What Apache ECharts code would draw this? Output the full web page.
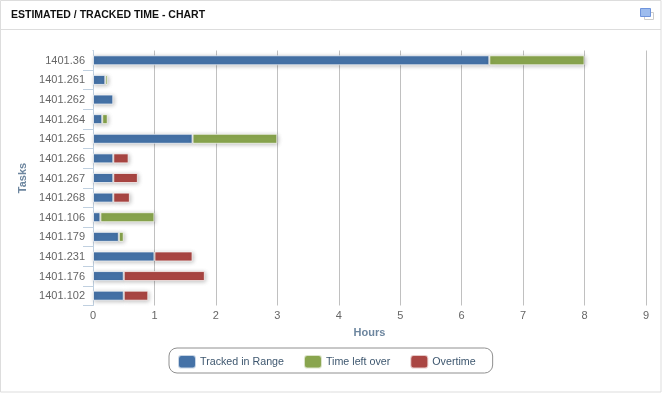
<!DOCTYPE html>
<html><head><meta charset="utf-8">
<style>html,body{margin:0;padding:0;background:#fff}#c{width:662px;height:393px}</style>
<script src="https://cdn.jsdelivr.net/npm/echarts@6/dist/echarts.min.js"></script>
</head><body><div id="c"></div>
<script>
const categories = ['1401.36','1401.261','1401.262','1401.264','1401.265','1401.266','1401.267','1401.268','1401.106','1401.179','1401.231','1401.176','1401.102'];
const tracked = [6.45,0.2,0.33,0.15,1.62,0.33,0.33,0.33,0.12,0.42,1.0,0.5,0.5];
const leftOver = [1.55,0.04,null,0.09,1.38,null,null,null,0.88,0.08,null,null,null];
const overtime = [null,null,null,null,null,0.25,0.4,0.27,null,null,0.62,1.32,0.4];
const FONT = '"Liberation Sans", Arial, sans-serif';
const chart = echarts.init(document.getElementById('c'), null, {renderer:'canvas'});
const mk = (name,data,color)=>({
  name,type:'bar',stack:'t',data,barWidth:10,
  itemStyle:{color,borderColor:'rgba(255,255,255,0.7)',borderWidth:1,shadowColor:'rgba(0,0,0,0.25)',shadowBlur:4,shadowOffsetX:1,shadowOffsetY:1}
});
chart.setOption({
  animation:false,
  textStyle:{fontFamily:FONT},
  title:{text:'ESTIMATED / TRACKED TIME - CHART',left:11,top:10,padding:0,
    textStyle:{fontFamily:FONT,fontSize:10.5,fontWeight:'bold',color:'#111'}},
  graphic:[
    {type:'rect',z:-1,shape:{x:0.5,y:0.5,width:660.5,height:391.5},style:{fill:'#fff',stroke:'#ddd',lineWidth:1}},
    {type:'line',z:-1,shape:{x1:1,y1:29.5,x2:661,y2:29.5},style:{stroke:'#ddd',lineWidth:1}},
    {type:'rect',z:1,shape:{x:644.5,y:12.5,width:9,height:7},style:{fill:'#fff',stroke:'#ccc',lineWidth:1}},
    {type:'rect',z:2,shape:{x:640.5,y:8.5,width:10,height:8},style:{fill:'#9dbcee',stroke:'#6f94dc',lineWidth:1}},
    {type:'rect',z:10,shape:{x:82,y:48,width:10.5,height:4},style:{fill:'#fff'}}
  ],
  grid:{left:93,top:50.5,width:553,height:255,containLabel:false},
  legend:{
    left:169,top:348,padding:[6,17,3.5,8],
    borderColor:'#909090',borderWidth:1,borderRadius:8,
    itemWidth:18,itemHeight:13.5,itemGap:19,
    icon:'roundRect',
    textStyle:{fontFamily:FONT,fontSize:10.7,color:'#3E576F',padding:[0,0,0,-1]},
    data:['Tracked in Range','Time left over','Overtime']
  },
  xAxis:{type:'value',min:0,max:9,interval:1,
    name:'Hours',nameLocation:'middle',nameGap:22,
    nameTextStyle:{fontFamily:FONT,fontSize:11,fontWeight:'bold',color:'#6D869F'},
    axisLine:{show:false},axisTick:{show:false},
    splitLine:{show:true,showMinLine:false,lineStyle:{color:'#C0C0C0',width:1}},
    axisLabel:{fontFamily:FONT,fontSize:11,color:'#666',margin:5}},
  yAxis:{type:'category',inverse:true,data:categories,
    name:'Tasks',nameLocation:'middle',nameGap:51,nameRotate:90,
    nameTextStyle:{fontFamily:FONT,fontSize:11,fontWeight:'bold',color:'#6D869F'},
    axisLine:{show:true,lineStyle:{color:'#C0D0E0',width:1}},
    axisTick:{show:true,length:10,alignWithLabel:false,lineStyle:{color:'#C0D0E0'}},
    axisLabel:{fontFamily:FONT,fontSize:11,color:'#666',margin:8,verticalAlign:'top',padding:[-5,0,0,0]}},
  series:[
    mk('Tracked in Range',tracked,'#4572A7'),
    mk('Time left over',leftOver,'#89A54E'),
    mk('Overtime',overtime,'#AA4643')
  ]
});
</script></body></html>
